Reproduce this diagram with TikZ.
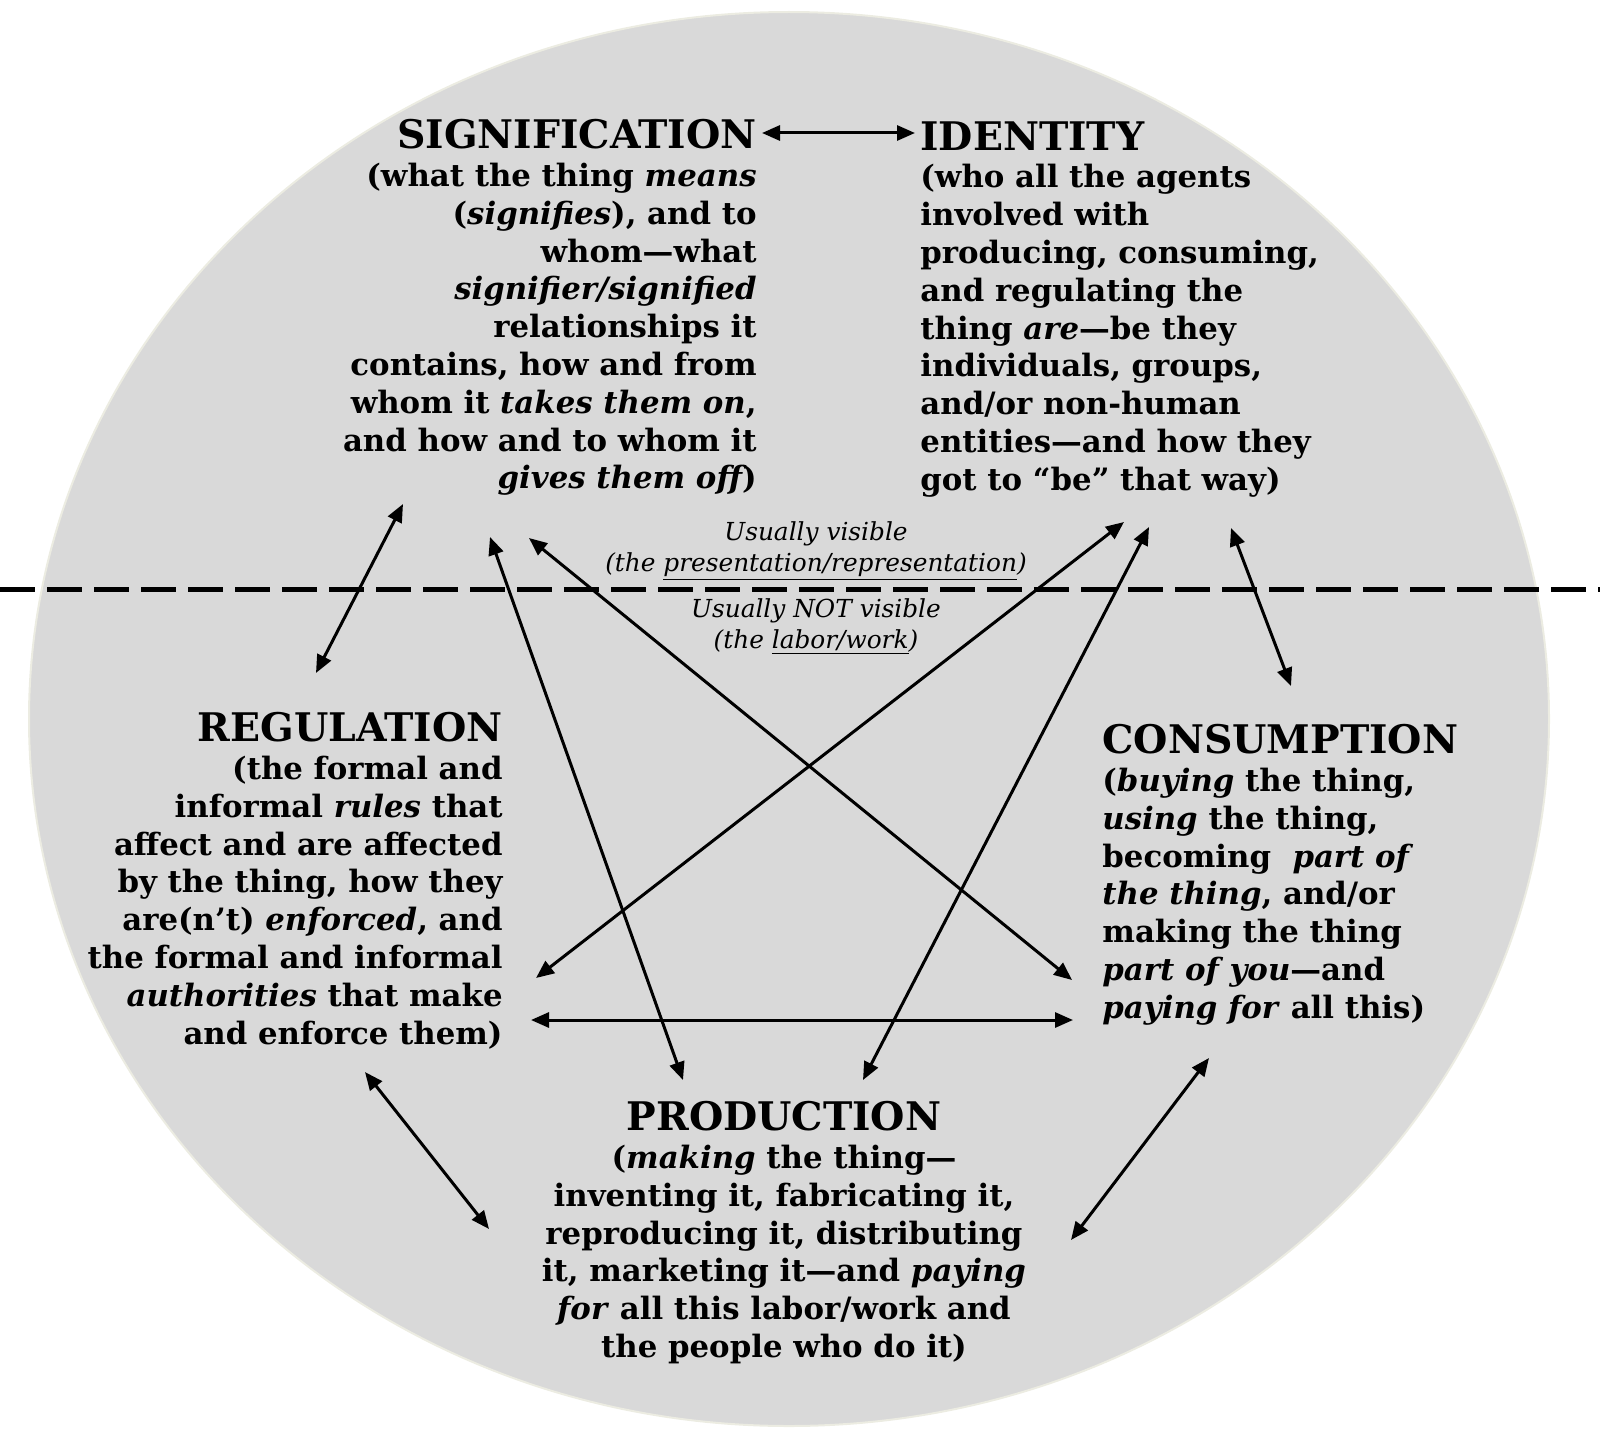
\documentclass[tikz,border=0pt]{standalone}
\usepackage{fontspec}
\setmainfont{DejaVu Serif}
\usetikzlibrary{arrows.meta}

\definecolor{discgray}{RGB}{217,217,217}
\definecolor{discedge}{RGB}{236,236,226}
\newcommand{\conceptname}[1]{{\fontsize{19.7pt}{18.9pt}\selectfont #1}}

\tikzstyle{concept} = [inner sep=0pt,font=\bfseries\fontsize{15.4pt}{18.9pt}\selectfont]
\tikzstyle{note} = [inner sep=0pt,align=center,font=\itshape\fontsize{12.4pt}{15.5pt}\selectfont]
\tikzstyle{link} = [{Triangle[length=9pt,width=7.5pt]}-{Triangle[length=9pt,width=7.5pt]},line width=1.5pt]
\tikzstyle{divider} = [line width=2.5pt,dash pattern=on 17.5pt off 6pt]

\begin{document}
\begin{tikzpicture}[x=0.5pt,y=-0.5pt]
	\useasboundingbox (0,0) rectangle (1600,1450);
	\filldraw[fill=discgray,draw=discedge,line width=1pt] (789,719) ellipse [x radius=760,y radius=707];
	\draw[divider] (0,589) -- (1600,589);

	\node[concept,align=right,anchor=north east] (sig) at (757,119)
	{\conceptname{SIGNIFICATION}\\ (what the thing \textit{means}\\ (\textit{signifies}), and to\\ whom---what\\ \textit{signifier/signified}\\ relationships it\\ contains, how and from\\ whom it \textit{takes them on},\\ and how and to whom it\\ {\itshape gives them off})};
	\node[concept,align=left,anchor=north west] (ident) at (920,121)
	{\conceptname{IDENTITY}\\ (who all the agents\\ involved with\\ producing, consuming,\\ and regulating the\\ thing \textit{are}---be they\\ individuals, groups,\\ and/or non-human\\ entities---and how they\\ got to ``be'' that way)};
	\node[concept,align=right,anchor=north east] (reg) at (503,712)
	{\conceptname{REGULATION}\\ (the formal and\\ informal \textit{rules} that\\ affect and are affected\\ by the thing, how they\\ are(n't) \textit{enforced}, and\\ the formal and informal\\ \textit{authorities} that make\\ and enforce them)};
	\node[concept,align=left,anchor=north west] (cons) at (1102,724)
	{\conceptname{CONSUMPTION}\\ (\textit{buying} the thing,\\ \textit{using} the thing,\\ becoming~ \textit{part of}\\ \textit{the thing}, and/or\\ making the thing\\ \textit{part of you}---and\\ \textit{paying for} all this)};
	\node[concept,align=center,anchor=north] (prod) at (784,1101)
	{\conceptname{PRODUCTION}\\ (\textit{making} the thing---\\ inventing it, fabricating it,\\ reproducing it, distributing\\ it, marketing it---and \textit{paying}\\ \textit{for} all this labor/work and\\ the people who do it)};

	\node[note,anchor=north] (seen) at (816,521) {Usually visible\\ (the \underline{presentation/representation})};
	\node[note,anchor=north] (unseen) at (816,598) {Usually NOT visible\\ (the \underline{labor/work})};

	\coordinate (sig-id) at (762,133);
	\coordinate (id-sig) at (915,133);
	\coordinate (sig-reg) at (403,504);
	\coordinate (reg-sig) at (316,673);
	\coordinate (sig-prod) at (490,537);
	\coordinate (prod-sig) at (683,1080);
	\coordinate (sig-cons) at (529,538);
	\coordinate (cons-sig) at (1072,980);
	\coordinate (id-reg) at (1124,522);
	\coordinate (reg-id) at (536,978);
	\coordinate (id-prod) at (1149,527);
	\coordinate (prod-id) at (863,1080);
	\coordinate (id-cons) at (1231,528);
	\coordinate (cons-id) at (1291,686);
	\coordinate (reg-cons) at (531,1020);
	\coordinate (cons-reg) at (1073,1020);
	\coordinate (reg-prod) at (365,1072);
	\coordinate (prod-reg) at (489,1229);
	\coordinate (cons-prod) at (1209,1058);
	\coordinate (prod-cons) at (1071,1240);

	\draw[link] (sig-id) -- (id-sig);
	\draw[link] (sig-reg) -- (reg-sig);
	\draw[link] (sig-prod) -- (prod-sig);
	\draw[link] (sig-cons) -- (cons-sig);
	\draw[link] (id-reg) -- (reg-id);
	\draw[link] (id-prod) -- (prod-id);
	\draw[link] (id-cons) -- (cons-id);
	\draw[link] (reg-cons) -- (cons-reg);
	\draw[link] (reg-prod) -- (prod-reg);
	\draw[link] (cons-prod) -- (prod-cons);
\end{tikzpicture}
\end{document}
